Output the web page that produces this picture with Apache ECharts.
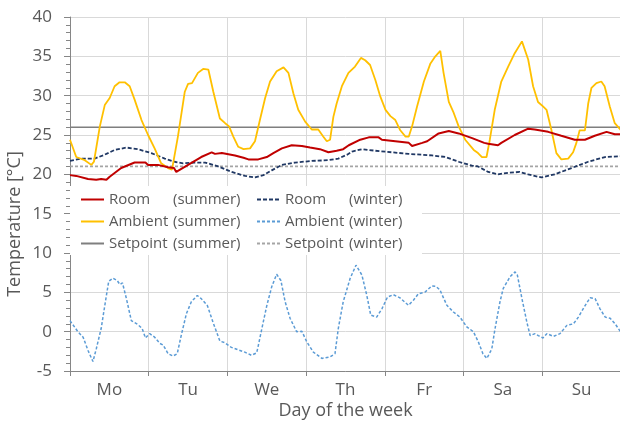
<!DOCTYPE html>
<html>
<head>
<meta charset="utf-8">
<script src="https://cdn.jsdelivr.net/npm/echarts@6.0.0/dist/echarts.min.js"></script>
<style>
  html, body { margin: 0; padding: 0; background: #fff; }
  #chart { width: 620px; height: 426px; }
</style>
</head>
<body>
<div id="chart"></div>
<script>
// Week of hourly temperatures: [hour of the week, °C]
const days = ['Mo', 'Tu', 'We', 'Th', 'Fr', 'Sa', 'Su'];
const yTicks = { min: -5, max: 40, step: 5 };

const roomSummer = [
  [0,19.9],[1.9,19.8],[2.4,19.6],[5.5,19.4],[8.0,19.3],[9.5,19.4],[11.1,19.3],[12.1,19.7],
  [15.6,20.8],[19.7,21.5],[23.0,21.5],[23.8,21.2],[26.8,21.2],[29.9,20.9],[31.7,20.8],[32.4,20.3],
  [36.0,21.2],[40.0,22.2],[43.2,22.8],[44.2,22.6],[46.3,22.7],[50.3,22.4],[52.9,22.1],[54.4,21.9],
  [57.4,21.9],[60.0,22.2],[62.0,22.7],[64.6,23.3],[67.6,23.7],[70.7,23.6],[73.2,23.4],[76.2,23.2],
  [78.8,22.8],[81.3,23.0],[83.3,23.2],[85.0,23.7],[88.5,24.4],[89.1,24.2],[91.1,24.7],[94.1,24.7],
  [95.1,24.4],[99.2,24.2],[103.3,24.0],[104.3,23.6],[107.4,24.0],[108.9,24.2],[112.4,25.2],[115.5,25.5],
  [118.5,25.2],[122.6,24.6],[126.3,24.0],[127.5,23.9],[130.5,23.7],[131.5,24.0],[135.6,25.0],[139.7,25.8],
  [141.7,25.7],[145.8,25.4],[149.8,24.9],[153.9,24.4],[157.0,24.4],[160.0,24.9],[163.6,25.4],[166.1,25.1],
  [168,25.1]
];

const roomWinter = [
  [0,21.7],[3.4,22.0],[7.5,22.0],[10.6,22.5],[13.6,23.1],[17.2,23.4],[20.7,23.2],[24.8,22.7],
  [28.9,22.0],[31.9,21.6],[34.5,21.4],[38.0,21.5],[41.2,21.5],[45.2,21.0],[49.3,20.3],[53.4,19.8],
  [56.4,19.6],[59.0,19.9],[61.5,20.5],[64.6,21.2],[68.6,21.5],[73.7,21.7],[78.8,21.8],[81.8,22.0],
  [84.5,22.5],[86.0,22.9],[89.1,23.2],[93.1,23.0],[98.2,22.8],[103.3,22.6],[110.4,22.4],[114.5,22.2],
  [118.5,21.6],[122.6,21.1],[124.4,21.0],[127.5,20.3],[130.5,20.0],[133.6,20.2],[137.1,20.3],[139.7,20.0],
  [143.7,19.6],[147.8,20.0],[152.9,20.8],[158.0,21.6],[163.1,22.2],[168,22.3]
];

const ambientSummer = [
  [0,24.4],[1.9,22.2],[4.5,21.8],[6.5,21.2],[7.3,21.6],[9.1,26.1],[10.6,28.8],[12.1,29.7],
  [13.6,31.2],[15.1,31.7],[16.7,31.7],[18.2,31.2],[19.7,29.5],[21.8,26.9],[23.8,25.0],[25.8,23.3],
  [27.8,21.4],[29.9,20.8],[31.1,20.6],[32.9,24.8],[35.0,30.5],[36.0,31.5],[37.2,31.6],[39.0,32.9],
  [40.6,33.4],[42.2,33.3],[43.7,30.5],[45.7,27.1],[47.3,26.5],[48.5,26.1],[49.8,24.8],[51.3,23.5],
  [52.9,23.2],[54.9,23.3],[56.4,24.2],[57.9,26.9],[59.5,29.7],[61.0,31.8],[63.0,33.1],[65.1,33.6],
  [66.6,32.9],[68.1,30.3],[69.6,28.2],[71.7,26.7],[73.7,25.7],[75.7,25.7],[77.2,24.8],[78.3,24.2],
  [79.3,24.4],[80.3,27.3],[81.3,29.0],[82.9,31.2],[84.9,32.9],[86.9,33.7],[88.7,34.8],[90.0,34.5],
  [91.5,33.9],[93.1,32.0],[94.6,29.9],[96.2,28.2],[97.7,27.4],[99.2,26.9],[100.7,25.6],[102.3,24.8],
  [103.3,24.8],[104.3,26.1],[105.8,28.6],[107.9,31.8],[109.9,34.1],[111.4,35.0],[112.9,35.7],[113.9,32.9],
  [115.5,29.2],[117.0,27.8],[118.5,26.1],[120.5,24.4],[123.1,23.1],[124.4,22.7],[125.6,22.2],[127.0,22.2],
  [128.0,24.4],[129.5,28.2],[131.5,31.8],[133.6,33.7],[135.6,35.4],[137.8,36.9],[139.7,34.6],[141.2,31.2],
  [142.7,29.2],[144.3,28.6],[145.3,28.2],[146.8,25.6],[148.3,22.7],[149.8,21.9],[151.9,22.0],[153.4,22.8],
  [154.4,24.0],[155.4,25.6],[157.0,25.6],[158.0,29.0],[159.0,31.0],[160.5,31.6],[162.0,31.8],[163.0,31.2],
  [164.6,28.6],[166.1,26.5],[168,25.6]
];

const ambientWinter = [
  [0,1.4],[2.4,0.0],[4.0,-0.7],[5.5,-2.4],[7.0,-3.8],[8.0,-2.2],[9.5,0.4],[10.6,3.3],
  [11.8,6.4],[13.1,6.8],[14.4,6.5],[15.2,6.0],[16.0,6.2],[17.2,4.2],[18.7,1.4],[20.7,0.9],
  [22.0,0.4],[23.0,-0.8],[24.3,-0.25],[25.8,-0.7],[27.4,-1.5],[28.4,-1.7],[29.9,-2.8],[31.4,-3.1],
  [32.7,-2.8],[33.9,-0.5],[35.5,2.3],[37.0,3.8],[38.8,4.6],[40.0,4.2],[41.9,3.3],[43.6,1.2],
  [45.7,-1.2],[47.2,-1.4],[49.2,-2.0],[51.2,-2.3],[53.3,-2.6],[55.3,-3.0],[56.9,-2.7],[57.3,-2.0],
  [58.5,0.4],[60.0,3.3],[61.5,5.7],[63.0,7.3],[64.3,6.5],[65.6,3.8],[67.1,1.7],[69.1,0.0],
  [70.7,0.05],[72.2,-1.3],[74.2,-2.6],[76.8,-3.4],[79.3,-3.2],[80.8,-2.8],[81.8,0.4],[83.3,3.8],
  [85.4,6.75],[87.2,8.45],[89.0,7.2],[90.5,4.6],[91.7,2.1],[93.5,1.85],[95.1,2.9],[96.8,4.4],
  [98.6,4.7],[100.6,4.3],[103.2,3.35],[104.7,4.0],[106.2,4.8],[108.3,5.05],[110.3,5.8],[111.6,5.75],
  [112.8,5.3],[114.9,3.35],[116.9,2.5],[118.9,1.85],[121.0,0.6],[123.0,0.0],[124.5,-1.3],[125.9,-2.8],
  [127.1,-3.4],[128.6,-2.2],[129.6,0.4],[131.1,3.8],[132.1,5.5],[134.2,7.0],[135.7,7.6],[136.4,7.2],
  [137.8,4.2],[139.3,1.2],[140.3,-0.5],[141.8,-0.25],[142.8,-0.5],[144.2,-0.8],[145.4,-0.25],[147.4,-0.6],
  [149.4,-0.25],[151.5,0.8],[153.5,1.0],[155.0,1.85],[157.1,3.35],[158.6,4.3],[160.1,4.2],[161.6,2.9],
  [163.2,1.85],[164.7,1.7],[166.2,1.0],[168,-0.1]
];

const setpointSummer = [[0,26],[168,26]];
const setpointWinter = [[0,21],[168,21]];

const FONT = '"Open Sans", "Noto Sans", sans-serif';
const TXT = '#595959';
const AXIS = '#868686';
const GRID = '#D9D9D9';
const LEGEND_SIZE = 15;

const chart = echarts.init(document.getElementById('chart'), null, { renderer: 'canvas' });

function line(name, data, color, width, type) {
  return {
    name, type: 'line', data, xAxisIndex: 0, yAxisIndex: 0,
    symbol: 'none', showSymbol: false, animation: false,
    lineStyle: { color, width, type: type || 'solid' },
    itemStyle: { color }
  };
}

const richCell = (w) => ({ width: w, fontFamily: FONT, fontSize: LEGEND_SIZE, color: TXT, lineHeight: 14 });

chart.setOption({
  animation: false,
  textStyle: { fontFamily: FONT },
  grid: {
    left: 70, top: 17, width: 551, height: 354,
    containLabel: false, outerBoundsMode: 'none'
  },
  xAxis: [
    {
      type: 'value', min: 0, max: 168, interval: 24,
      axisLine: { show: true, onZero: false, lineStyle: { color: AXIS, width: 1 } },
      axisTick: { show: true, length: 5, lineStyle: { color: AXIS } },
      axisLabel: { show: false },
      splitLine: { show: true, lineStyle: { color: GRID, width: 1 } },
      name: 'Day of the week', nameLocation: 'middle', nameGap: 31,
      nameTextStyle: { fontFamily: FONT, fontSize: 18, color: TXT }
    },
    {
      type: 'category', data: days, position: 'bottom', boundaryGap: true,
      axisLine: { show: false, onZero: false }, axisTick: { show: false },
      splitLine: { show: false },
      axisLabel: { fontFamily: FONT, fontSize: 17, color: TXT, margin: 11 }
    }
  ],
  yAxis: {
    type: 'value', min: yTicks.min, max: yTicks.max, interval: yTicks.step,
    axisLine: { show: true, onZero: false, lineStyle: { color: AXIS, width: 1 } },
    axisTick: { show: true, length: 6, lineStyle: { color: AXIS } },
    minorTick: { show: true, splitNumber: 5, length: 4, lineStyle: { color: AXIS } },
    splitLine: { show: true, lineStyle: { color: GRID, width: 1 } },
    axisLabel: { fontFamily: FONT, fontSize: 17, color: TXT, margin: 18 }
  },
  legend: {
    left: 70, top: 186, width: 340,
    padding: [6, 3, 4, 10],
    backgroundColor: '#fff',
    itemWidth: 23, itemHeight: 14, itemGap: 7,
    itemStyle: { opacity: 0 },
    data: ['Room (summer)', 'Room (winter)', 'Ambient (summer)', 'Ambient (winter)',
           'Setpoint (summer)', 'Setpoint (winter)'],
    formatter: function (name) {
      const i = name.indexOf(' (');
      const head = name.slice(0, i);
      const tail = name.slice(i + 1);
      const key = tail === '(winter)' ? 'w' : 's';
      return '{a|' + head + '}{' + key + '|' + tail + '}';
    },
    textStyle: {
      fontFamily: FONT, fontSize: LEGEND_SIZE, color: TXT, lineHeight: 14,
      rich: { a: richCell(64), s: richCell(76), w: richCell(70) }
    }
  },
  graphic: [{
    type: 'text', x: 15, y: 224, rotation: Math.PI / 2,
    style: {
      text: 'Temperature [°C]', fill: TXT,
      font: '18px ' + FONT, align: 'center', verticalAlign: 'middle'
    }
  }],
  series: [
    line('Setpoint (winter)', setpointWinter, '#A5A5A5', 1.8, [3, 2]),
    line('Setpoint (summer)', setpointSummer, '#7F7F7F', 1.5),
    line('Ambient (winter)', ambientWinter, '#5B9BD5', 1.5, [3, 2]),
    line('Room (winter)', roomWinter, '#203864', 1.8, [4, 2]),
    line('Ambient (summer)', ambientSummer, '#FFC000', 1.8),
    line('Room (summer)', roomSummer, '#C00000', 2)
  ]
});
</script>
</body>
</html>
